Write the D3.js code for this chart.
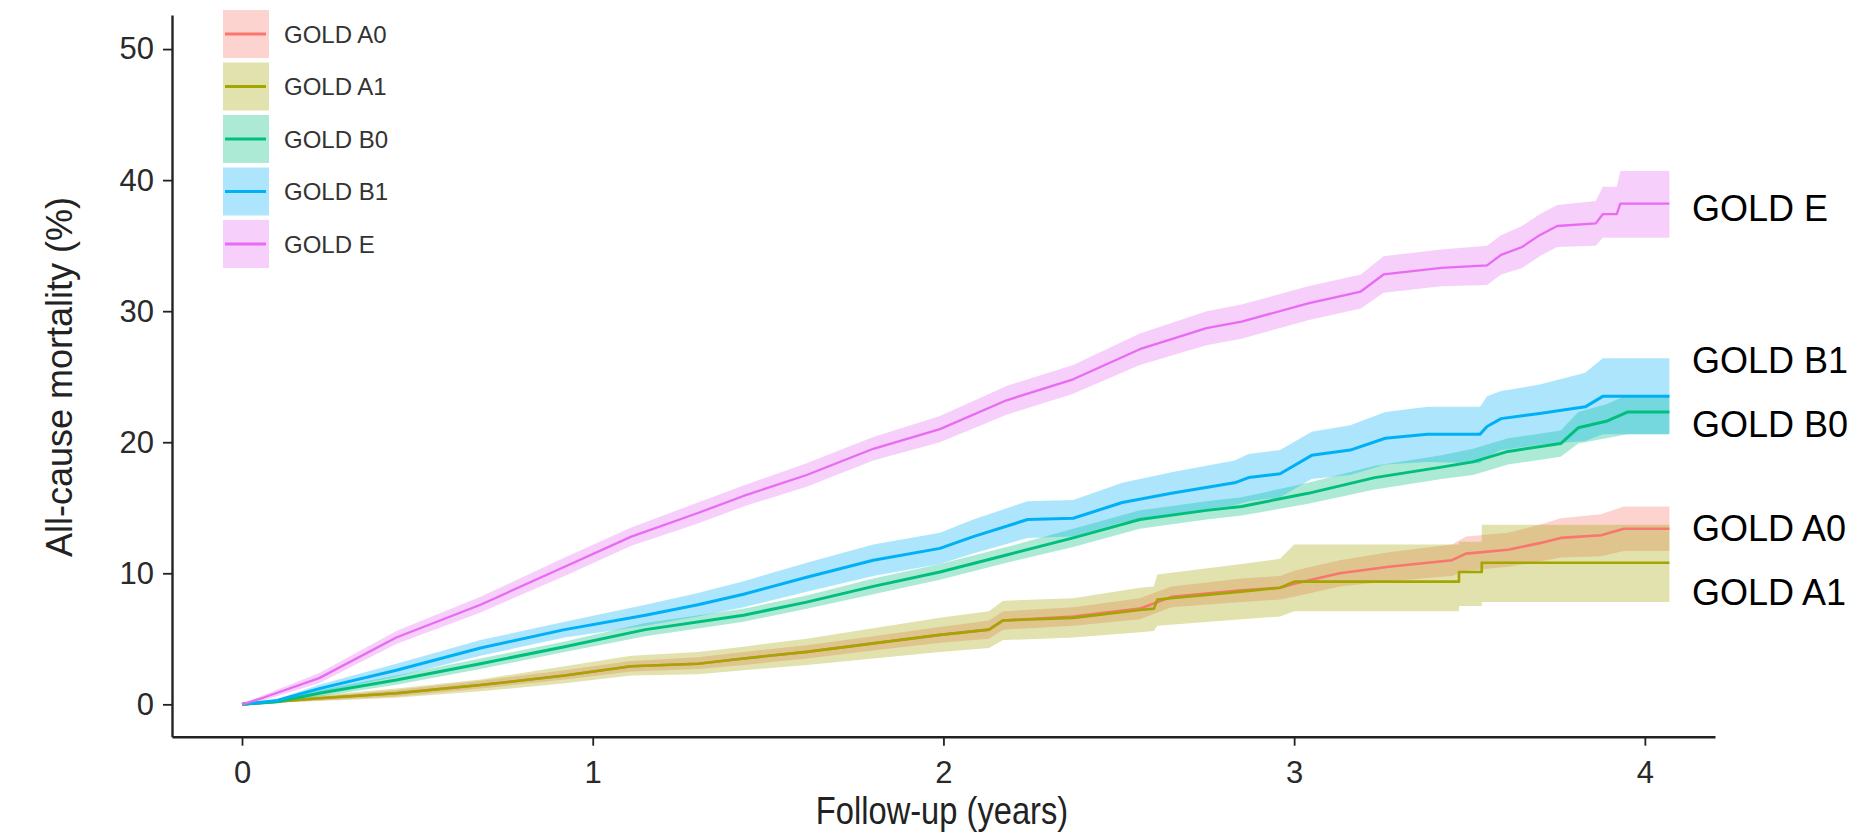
<!DOCTYPE html>
<html>
<head>
<meta charset="utf-8">
<script src="https://cdn.jsdelivr.net/npm/d3@7"></script>
<style>
  html, body { margin: 0; padding: 0; background: #fff; }
  svg { display: block; }
  text { font-family: "Liberation Sans", Arial, Helvetica, sans-serif; }
</style>
</head>
<body>
<svg id="chart" width="1865" height="834"></svg>
<script>
// ---------- data ----------
const groups = ["GOLD A0", "GOLD A1", "GOLD B0", "GOLD B1", "GOLD E"];
const colors = ["#F8766D", "#A3A500", "#00BF7D", "#00B0F6", "#E76BF3"];
const xTicks = [0, 1, 2, 3, 4];
const yTicks = [0, 10, 20, 30, 40, 50];

// GOLD A0
const a0_t  = [0, 0.22, 0.44, 0.68, 0.92, 1.11, 1.30, 1.43, 1.61, 1.80, 1.99, 2.13, 2.17, 2.37, 2.56, 2.65, 2.85, 2.96, 3.00, 3.13, 3.27, 3.45, 3.49, 3.61, 3.70, 3.76, 3.875, 3.94, 4.07];
const a0_est= [0, 0.46, 0.84, 1.47, 2.2, 2.9, 3.1, 3.5, 4.0, 4.65, 5.3, 5.7, 6.4, 6.7, 7.3, 8.2, 8.7, 8.9, 9.2, 10.0, 10.5, 11.0, 11.5, 11.8, 12.3, 12.7, 12.9, 13.4, 13.4];
const a0_lo = [0, 0.3, 0.6, 1.2, 1.9, 2.5, 2.7, 3.0, 3.5, 4.1, 4.7, 5.0, 5.7, 6.0, 6.5, 7.4, 7.8, 8.0, 8.2, 9.0, 9.4, 9.8, 10.2, 10.5, 10.9, 11.2, 11.3, 11.7, 11.7];
const a0_hi = [0, 0.6, 1.1, 1.8, 2.6, 3.3, 3.6, 4.0, 4.5, 5.2, 5.9, 6.4, 7.1, 7.4, 8.1, 9.0, 9.6, 9.8, 10.2, 11.0, 11.6, 12.2, 12.8, 13.1, 13.7, 14.2, 14.5, 15.1, 15.1];

// GOLD A1
const a1_t  = [0, 0.22, 0.44, 0.68, 0.92, 1.11, 1.30, 1.43, 1.61, 1.80, 1.99, 2.13, 2.17, 2.37, 2.56, 2.60, 2.61, 2.85, 2.96, 3.00, 3.47, 3.47, 3.535, 3.535, 4.07];
const a1_est= [0, 0.46, 0.84, 1.47, 2.2, 2.9, 3.1, 3.5, 4.0, 4.65, 5.3, 5.7, 6.4, 6.6, 7.2, 7.3, 8.0, 8.6, 8.9, 9.36, 9.36, 10.1, 10.1, 10.8, 10.8];
const a1_lo = [0, 0.25, 0.5, 1.0, 1.6, 2.2, 2.3, 2.6, 3.0, 3.5, 4.0, 4.3, 4.9, 5.1, 5.5, 5.6, 6.0, 6.5, 6.7, 7.1, 7.1, 7.5, 7.5, 7.8, 7.8];
const a1_hi = [0, 0.7, 1.2, 1.9, 2.9, 3.7, 4.0, 4.4, 5.0, 5.8, 6.6, 7.1, 7.9, 8.1, 8.9, 9.0, 9.9, 10.7, 11.1, 12.2, 12.2, 12.4, 12.4, 13.7, 13.7];

// GOLD B0
const b0_t  = [0, 0.10, 0.22, 0.44, 0.68, 0.92, 1.15, 1.43, 1.61, 1.80, 1.99, 2.18, 2.37, 2.56, 2.75, 2.85, 3.04, 3.23, 3.42, 3.51, 3.61, 3.76, 3.81, 3.89, 3.95, 4.07];
const b0_est= [0, 0.2, 0.84, 1.85, 3.1, 4.4, 5.7, 6.8, 7.8, 9.0, 10.1, 11.4, 12.7, 14.1, 14.8, 15.1, 16.1, 17.3, 18.1, 18.5, 19.3, 19.9, 21.1, 21.6, 22.3, 22.3];
const b0_lo = [0, 0.1, 0.6, 1.5, 2.7, 4.0, 5.2, 6.3, 7.3, 8.4, 9.5, 10.8, 12.0, 13.4, 14.1, 14.4, 15.3, 16.4, 17.2, 17.5, 18.3, 18.9, 19.9, 20.3, 20.6, 20.6];
const b0_hi = [0, 0.3, 1.1, 2.2, 3.5, 4.8, 6.2, 7.3, 8.3, 9.6, 10.7, 12.0, 13.4, 14.8, 15.5, 15.8, 16.9, 18.2, 19.0, 19.5, 20.3, 20.9, 22.3, 22.9, 23.6, 23.6];

// GOLD B1
const b1_t  = [0, 0.10, 0.22, 0.44, 0.68, 0.92, 1.15, 1.30, 1.43, 1.61, 1.80, 1.99, 2.085, 2.24, 2.37, 2.51, 2.65, 2.83, 2.87, 2.96, 3.05, 3.16, 3.26, 3.38, 3.53, 3.55, 3.59, 3.70, 3.83, 3.88, 4.07];
const b1_est= [0, 0.3, 1.2, 2.6, 4.3, 5.7, 6.8, 7.6, 8.4, 9.7, 11.0, 11.9, 12.8, 14.1, 14.2, 15.4, 16.1, 16.9, 17.3, 17.6, 19.0, 19.4, 20.3, 20.6, 20.6, 21.2, 21.8, 22.2, 22.7, 23.5, 23.5];
const b1_lo = [0, 0.2, 0.9, 2.1, 3.7, 5.1, 6.0, 6.7, 7.4, 8.6, 9.8, 10.7, 11.5, 12.7, 12.8, 13.9, 14.5, 15.2, 15.5, 15.8, 17.2, 17.5, 18.3, 18.5, 18.4, 18.9, 19.4, 19.8, 20.1, 20.6, 20.6];
const b1_hi = [0, 0.4, 1.5, 3.1, 4.9, 6.3, 7.6, 8.5, 9.4, 10.8, 12.2, 13.1, 14.1, 15.5, 15.6, 16.9, 17.7, 18.6, 19.1, 19.4, 20.8, 21.3, 22.3, 22.7, 22.7, 23.5, 23.9, 24.4, 25.3, 26.4, 26.4];

// GOLD E
const e_t   = [0, 0.06, 0.22, 0.44, 0.68, 0.92, 1.11, 1.30, 1.43, 1.61, 1.80, 1.99, 2.18, 2.37, 2.56, 2.75, 2.85, 3.04, 3.19, 3.255, 3.42, 3.55, 3.59, 3.65, 3.70, 3.75, 3.86, 3.88, 3.92, 3.93, 4.07];
const e_est = [0, 0.5, 2.0, 5.1, 7.6, 10.5, 12.8, 14.6, 15.9, 17.5, 19.5, 21.0, 23.2, 24.8, 27.1, 28.7, 29.2, 30.6, 31.5, 32.8, 33.3, 33.5, 34.3, 34.9, 35.8, 36.5, 36.7, 37.4, 37.4, 38.2, 38.2];
const e_lo  = [0, 0.3, 1.6, 4.6, 7.0, 9.8, 12.1, 13.8, 15.1, 16.6, 18.6, 20.0, 22.1, 23.7, 25.9, 27.4, 27.9, 29.3, 30.2, 31.4, 31.9, 32.0, 32.8, 33.3, 34.2, 34.9, 35.0, 35.6, 35.6, 35.6, 35.6];
const e_hi  = [0, 0.7, 2.4, 5.6, 8.2, 11.2, 13.5, 15.4, 16.7, 18.4, 20.4, 22.0, 24.3, 25.9, 28.3, 30.0, 30.5, 31.9, 32.8, 34.2, 34.7, 35.0, 35.8, 36.5, 37.4, 38.1, 38.4, 39.5, 39.5, 40.7, 40.7];

const seriesT   = [a0_t, a1_t, b0_t, b1_t, e_t];
const seriesEst = [a0_est, a1_est, b0_est, b1_est, e_est];
const seriesLo  = [a0_lo, a1_lo, b0_lo, b1_lo, e_lo];
const seriesHi  = [a0_hi, a1_hi, b0_hi, b1_hi, e_hi];

// end labels (top to bottom as placed in the picture)
const endLabels = ["GOLD E", "GOLD B1", "GOLD B0", "GOLD A0", "GOLD A1"];
const endLabelY = [221, 373, 437, 541, 605];

// ---------- drawing ----------
const svg = d3.select("#chart");
const x = d3.scaleLinear().domain([-0.1996, 4.2]).range([172, 1715]);
const y = d3.scaleLinear().domain([-2.47, 52.6]).range([736.7, 15]);

const lineWidths = [2.6, 2.6, 3.0, 3.0, 2.3];

const data = groups.map((g, i) => ({
  name: g, color: colors[i], lw: lineWidths[i],
  pts: seriesT[i].map((t, k) => ({t, est: seriesEst[i][k], lo: seriesLo[i][k], hi: seriesHi[i][k]}))
}));

const area = d3.area().x(d => x(d.t)).y0(d => y(d.lo)).y1(d => y(d.hi)).curve(d3.curveLinear);
const line = d3.line().x(d => x(d.t)).y(d => y(d.est)).curve(d3.curveLinear);

const gBands = svg.append("g");
data.forEach(s => {
  gBands.append("path").attr("d", area(s.pts))
    .attr("fill", s.color).attr("fill-opacity", 0.32).attr("stroke", "none");
});
const gLines = svg.append("g");
data.forEach(s => {
  gLines.append("path").attr("d", line(s.pts))
    .attr("fill", "none").attr("stroke", s.color).attr("stroke-width", s.lw)
    .attr("stroke-linejoin", "round");
});

// axes
const xAxis = d3.axisBottom(x).tickValues(xTicks).tickFormat(d3.format("d"))
  .tickSize(9).tickSizeOuter(0).tickPadding(15);
const yAxis = d3.axisLeft(y).tickValues(yTicks).tickFormat(d3.format("d"))
  .tickSize(9).tickSizeOuter(0).tickPadding(9);

const gx = svg.append("g").attr("transform", "translate(0,736.7)").call(xAxis);
const gy = svg.append("g").attr("transform", "translate(172,0)").call(yAxis);
[gx, gy].forEach(g => {
  g.select(".domain").attr("stroke", "#222").attr("stroke-width", 2.4);
  g.selectAll(".tick line").attr("stroke", "#222").attr("stroke-width", 1.8);
  g.selectAll(".tick text").attr("fill", "#2a2a2a").style("font-size", "31px")
    .style("font-family", "'Liberation Sans', Arial, sans-serif");
});

// axis titles
svg.append("text")
  .attr("transform", "translate(942,824) scale(0.86,1)")
  .attr("text-anchor", "middle").attr("fill", "#222")
  .style("font-size", "38px").text("Follow-up (years)");
svg.append("text")
  .attr("transform", "translate(72,377) rotate(-90)")
  .attr("text-anchor", "middle").attr("fill", "#222")
  .style("font-size", "36px").text("All-cause mortality (%)");

// legend
const leg = svg.append("g");
data.forEach((s, i) => {
  const top = 10 + i * 52.5;
  leg.append("rect").attr("x", 223).attr("y", top).attr("width", 46).attr("height", 48)
    .attr("fill", s.color).attr("fill-opacity", 0.32);
  leg.append("line").attr("x1", 225).attr("x2", 266).attr("y1", top + 24).attr("y2", top + 24)
    .attr("stroke", s.color).attr("stroke-width", 3);
  leg.append("text").attr("x", 284).attr("y", top + 24).attr("dy", "0.36em")
    .attr("fill", "#333").style("font-size", "24px").text(s.name);
});

// end labels
endLabels.forEach((lab, i) => {
  svg.append("text").attr("x", 1692).attr("y", endLabelY[i])
    .attr("fill", "#000").style("font-size", "36px").text(lab);
});
</script>
</body>
</html>
